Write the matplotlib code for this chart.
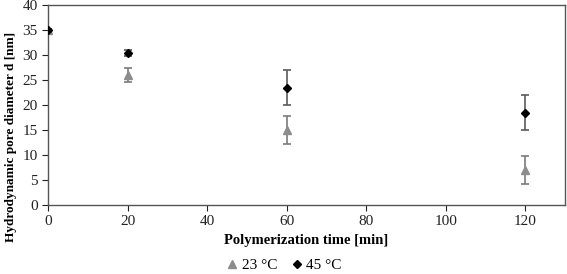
import matplotlib
matplotlib.use("Agg")
import matplotlib.pyplot as plt
from matplotlib.lines import Line2D

plt.rcParams['font.family'] = ['Liberation Serif', 'DejaVu Serif']

time = [0, 20, 60, 120]
d23 = [35.0, 26.0, 15.0, 7.0]
e23 = [0.3, 1.4, 2.8, 2.8]
d45 = [35.0, 30.5, 23.5, 18.5]
e45 = [0.3, 0.6, 3.5, 3.5]
series_labels = ['23 °C', '45 °C']

fig = plt.figure(figsize=(5.67, 2.74), dpi=100)
ax = fig.add_axes([48/567, 69/274, 517/567, 200/274])

c23 = '#8c8c8c'
c45 = 'black'
ax.errorbar(time, d23, yerr=e23, fmt='^', color=c23, ms=6,
            ecolor='#7a7a7a', elinewidth=1.2, capsize=3, capthick=1.2, zorder=3)
ax.errorbar(time, d45, yerr=e45, fmt='D', color=c45, ms=4.5,
            ecolor='#5a5a5a', elinewidth=1.2, capsize=3, capthick=1.2, zorder=4)

ax.set_xlim(0, 130)
ax.set_ylim(0, 40)
ax.set_xticks([0, 20, 40, 60, 80, 100, 120])
ax.set_yticks(range(0, 41, 5))
ax.tick_params(direction='out', length=4, width=0.8, labelsize=11, colors='#222222')
for s in ax.spines.values():
    s.set_color('#555555')
    s.set_linewidth(1.0)

ax.set_xlabel('Polymerization time [min]', fontsize=10.5, fontweight='bold', labelpad=4)
ax.set_ylabel('Hydrodynamic pore diameter d [nm]', fontsize=9.5, fontweight='bold')
ax.yaxis.set_label_coords(-0.06, 0.34)

handles = [Line2D([], [], marker='^', color=c23, ls='none', ms=6),
           Line2D([], [], marker='D', color=c45, ls='none', ms=4.5)]
fig.legend(handles, series_labels, loc='center', bbox_to_anchor=(283/567, 1 - 265/274), ncol=2,
           frameon=False, fontsize=11, handletextpad=0.1, columnspacing=0.8,
           handlelength=1.0)

fig.savefig('out.png', dpi=100)
